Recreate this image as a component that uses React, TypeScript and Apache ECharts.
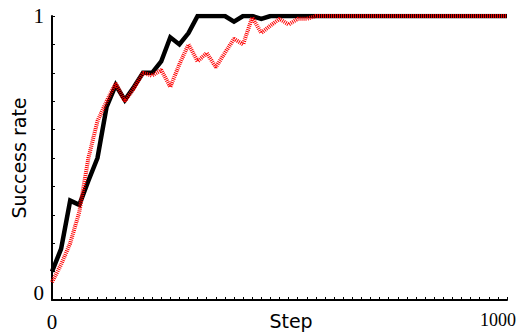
import React, { useEffect, useRef } from "react";
import * as echarts from "echarts";

const steps = [
  0, 20, 40, 60, 80, 100, 120, 140, 160, 180, 200, 220, 240, 260, 280, 300, 320, 340, 360, 380,
  400, 420, 440, 460, 480, 500, 520, 540, 560, 580, 600, 620, 640, 660, 680, 700, 720, 740, 760,
  780, 800, 820, 840, 860, 880, 900, 920, 940, 960, 980, 1000,
];

const blackValues = [
  0.1, 0.18, 0.35, 0.335, 0.42, 0.5, 0.68, 0.757, 0.704, 0.75, 0.8, 0.8, 0.84, 0.925, 0.9, 0.94,
  1.0, 1.0, 1.0, 1.0, 0.98, 1.0, 1.0, 0.99, 1, 1, 1, 1, 1, 1, 1, 1, 1, 1, 1, 1, 1, 1, 1, 1, 1, 1,
  1, 1, 1, 1, 1, 1, 1, 1, 1,
];

const redValues = [
  0.063, 0.125, 0.2, 0.31, 0.5, 0.63, 0.7, 0.763, 0.7, 0.745, 0.8, 0.79, 0.81, 0.75, 0.83, 0.9,
  0.84, 0.87, 0.82, 0.87, 0.92, 0.9, 0.995, 0.94, 0.966, 0.99, 0.97, 0.99, 0.99, 1, 1, 1, 1, 1, 1,
  1, 1, 1, 1, 1, 1, 1, 1, 1, 1, 1, 1, 1, 1, 1, 1,
];

const xTickLabels = ["0", "1000"];
const yTickLabels = ["0", "1"];

export default function App() {
  const ref = useRef<HTMLDivElement>(null);
  useEffect(() => {
    if (!ref.current) return;
    const chart = echarts.init(ref.current, undefined, { renderer: "svg" });
    const serif = "'Liberation Serif', 'Times New Roman', serif";
    const sans = "'DejaVu Sans', Verdana, sans-serif";
    chart.setOption({
      animation: false,
      backgroundColor: "#fff",
      grid: {
        left: 52,
        right: 16,
        top: 16,
        bottom: 35,
        containLabel: false,
        outerBoundsMode: "none",
      },
      xAxis: {
        type: "value",
        min: 0,
        max: 1000,
        interval: 20,
        name: "Step",
        nameLocation: "middle",
        nameGap: 11,
        nameMoveOverlap: false,
        nameTextStyle: {
          fontFamily: sans,
          fontSize: 19,
          color: "#000",
          verticalAlign: "top",
          padding: [0, 0, 0, 23],
        },
        axisLine: { show: true, lineStyle: { color: "#000", width: 2 } },
        axisTick: { show: true, inside: true, length: 3, lineStyle: { color: "#000", width: 1 } },
        splitLine: { show: false },
        axisLabel: {
          show: true,
          interval: 0,
          margin: 11,
          fontFamily: serif,
          fontSize: 21,
          color: "#000",
          formatter: (v: number) => {
            if (String(v) === xTickLabels[0]) return "{a|" + xTickLabels[0] + "}";
            if (String(v) === xTickLabels[1]) return "{m|" + xTickLabels[1] + "}";
            return "";
          },
          rich: {
            a: { fontFamily: serif, fontSize: 21, color: "#000" },
            m: { fontFamily: serif, fontSize: 18, color: "#000", padding: [0, 18, 0, 0] },
          },
        },
      },
      yAxis: {
        type: "value",
        min: 0,
        max: 1,
        interval: 0.1,
        name: "Success rate",
        nameLocation: "middle",
        nameGap: 24,
        nameMoveOverlap: false,
        nameTextStyle: { fontFamily: sans, fontSize: 19, color: "#000" },
        axisLine: { show: true, lineStyle: { color: "#000", width: 2 } },
        axisTick: { show: true, inside: true, length: 3, lineStyle: { color: "#000", width: 1 } },
        splitLine: { show: false },
        axisLabel: {
          show: true,
          margin: 8,
          fontFamily: serif,
          fontSize: 21,
          color: "#000",
          formatter: (v: number) => {
            if (Math.abs(v - 0) < 1e-9) return "{z|" + yTickLabels[0] + "}";
            if (Math.abs(v - 1) < 1e-9) return "{o|" + yTickLabels[1] + "}";
            return "";
          },
          rich: {
            z: { fontFamily: serif, fontSize: 21, color: "#000", padding: [0, 0, 14, 0] },
            o: { fontFamily: serif, fontSize: 21, color: "#000" },
          },
        },
      },
      series: [
        {
          type: "line",
          data: steps.map((s, i) => [s, blackValues[i]]),
          showSymbol: false,
          symbol: "none",
          lineStyle: { color: "#000", width: 4.5, join: "miter" },
          z: 2,
        },
        {
          type: "line",
          data: steps.map((s, i) => [s, redValues[i]]),
          showSymbol: false,
          symbol: "none",
          lineStyle: { color: "#ff0000", width: 4, type: [1, 1] },
          z: 3,
        },
      ],
    });
    return () => chart.dispose();
  }, []);
  return (
    <div
      ref={ref}
      style={{ position: "fixed", left: 0, top: 0, width: 523, height: 335, background: "#fff" }}
    />
  );
}
